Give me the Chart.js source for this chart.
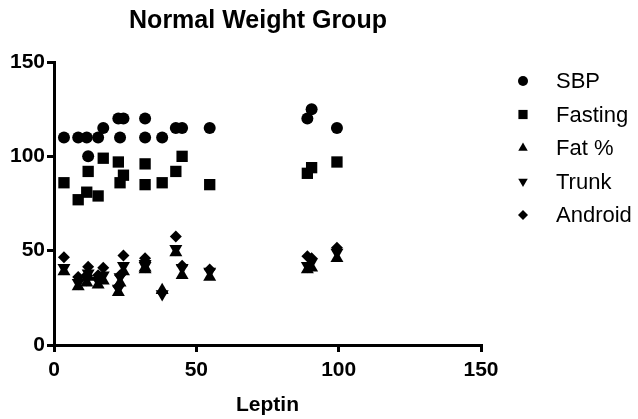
<!DOCTYPE html>
<html>
<head>
<meta charset="utf-8">
<script src="https://cdn.jsdelivr.net/npm/chart.js@4/dist/chart.umd.min.js"></script>
<style>
  body { margin: 0; background: #fff; }
  #wrap { width: 638px; height: 419px; position: relative; }
</style>
</head>
<body>
<div id="wrap"><canvas id="chart"></canvas></div>
<script>
// Normal Weight Group
const chartTitle = 'Normal Weight Group';
const xTitle = 'Leptin';
const seriesNames = ['SBP', 'Fasting', 'Fat %', 'Trunk', 'Android'];

const leptin  = [3.5, 8.5, 11.5, 12, 15.5, 17.3, 22.6, 24.4, 23.2, 32, 32, 38, 42.8, 45, 54.7, 89, 90.5, 99.4];
const sbp     = [110, 110, 110, 100, 110, 115, 120, 120, 110, 120, 110, 110, 115, 115, 115, 120, 125, 115];
const fasting = [86, 77, 81, 92, 79, 99, 97, 90, 86, 96, 85, 86, 92, 100, 85, 91, 94, 97];
const fatPct  = [39, 31, 33, 36, 32, 34, 28, 39, 33, 40, 41, 29, 49, 37, 36, 40, 41, 46];
const trunk   = [41, 33, 35, 38, 34, 37, 30, 42, 36, 42, 43, 27, 51, 41, 39, 42, 44, 49];
const android = [46.5, 36, 37, 41.5, 37, 41, 31, 47.5, 37, 46, 44, 28, 57.5, 42, 40, 47, 46, 51.5];

const FONT = '"Liberation Sans", Arial, sans-serif';

function toPoints(ys) {
    return leptin.map((x, i) => ({ x, y: ys[i] }));
}

const styles = [
    { pointStyle: 'circle', radius: 6, rotation: 0, legendRadius: 5 },
    { pointStyle: 'rect', radius: 8, rotation: 0, legendRadius: 6.5 },
    { pointStyle: 'triangle', radius: 7.5, rotation: 0, legendRadius: 5.5 },
    { pointStyle: 'triangle', radius: 7.5, rotation: 180, legendRadius: 5.5 },
    { pointStyle: 'rectRot', radius: 6, rotation: 0, legendRadius: 5 }
];
const values = [sbp, fasting, fatPct, trunk, android];

const datasets = seriesNames.map((name, i) => ({
    label: name,
    data: toPoints(values[i]),
    pointStyle: styles[i].pointStyle,
    pointRadius: styles[i].radius,
    pointHoverRadius: styles[i].radius,
    pointRotation: styles[i].rotation,
    backgroundColor: '#000',
    borderColor: '#000',
    borderWidth: 0
}));

// tytul + legenda rysowane recznie, zeby trafic w uklad z obrazka
const decorPlugin = {
    id: 'decor',
    afterDraw(chart) {
        const ctx = chart.ctx;
        ctx.save();
        ctx.fillStyle = '#000';
        ctx.font = 'bold 25px ' + FONT;
        ctx.textAlign = 'center';
        ctx.textBaseline = 'middle';
        ctx.fillText(chartTitle, 258, 21);

        ctx.font = '22px ' + FONT;
        ctx.textAlign = 'left';
        chart.data.datasets.forEach((ds, i) => {
            const y = 81 + i * 33.5;
            Chart.helpers.drawPoint(ctx, {
                pointStyle: styles[i].pointStyle,
                radius: styles[i].legendRadius,
                rotation: styles[i].rotation,
                borderWidth: 0
            }, 523, y);
            ctx.fillText(ds.label, 556, y + 1);
        });
        ctx.restore();
    }
};

const axisCommon = {
    type: 'linear',
    min: 0,
    max: 150,
    border: { display: true, color: '#000', width: 3 },
    grid: { drawOnChartArea: false, drawTicks: true, color: '#000', lineWidth: 3, tickLength: 7 }
};
const tickFont = { family: FONT, size: 21, weight: 'bold' };

new Chart(document.getElementById('chart'), {
    type: 'scatter',
    data: { datasets },
    options: {
        responsive: true,
        maintainAspectRatio: false,
        animation: false,
        layout: { padding: { top: 62, right: 157, left: 0, bottom: 0 } },
        plugins: {
            legend: { display: false },
            title: { display: false },
            tooltip: { enabled: false }
        },
        scales: {
            x: {
                ...axisCommon,
                position: 'bottom',
                ticks: { stepSize: 50, color: '#000', padding: 6, font: tickFont },
                title: {
                    display: true,
                    text: xTitle,
                    color: '#000',
                    font: { family: FONT, size: 21, weight: 'bold' },
                    padding: { top: 0, bottom: 1 }
                },
                afterFit(scale) { scale.height = 74; }
            },
            y: {
                ...axisCommon,
                position: 'left',
                ticks: { stepSize: 50, color: '#000', padding: 2, font: tickFont },
                afterFit(scale) { scale.width = 54; }
            }
        }
    },
    plugins: [decorPlugin]
});
</script>
</body>
</html>
